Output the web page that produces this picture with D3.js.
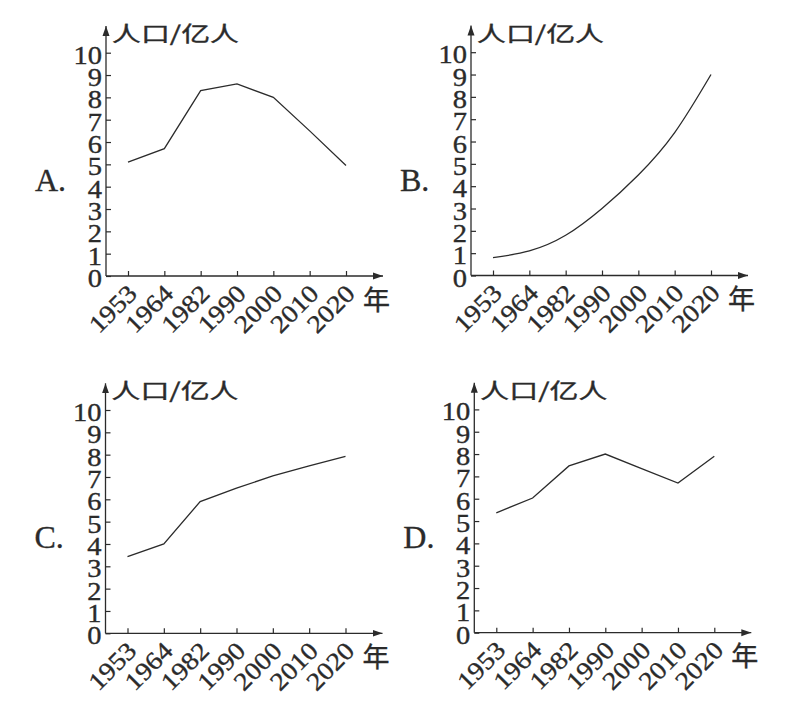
<!DOCTYPE html>
<html>
<head>
<meta charset="utf-8">
<script src="https://cdn.jsdelivr.net/npm/d3@7"></script>
<style>
  body { margin: 0; background: #fff; }
  svg { display: block; }
</style>
</head>
<body>
<div id="chart"></div>
<script>
// dane
const years = ['1953', '1964', '1982', '1990', '2000', '2010', '2020'];
const yTicks = [0, 1, 2, 3, 4, 5, 6, 7, 8, 9, 10];
const panelLabels = ['A.', 'B.', 'C.', 'D.'];
const popA = [5.1, 5.7, 8.3, 8.6, 8.0, 6.5, 4.95];
const popB = [0.8, 1.1, 1.8, 3.0, 4.5, 6.4, 9.0];
const popC = [3.43, 4.0, 5.9, 6.5, 7.05, 7.5, 7.92];
const popD = [5.37, 6.03, 7.47, 8.0, 7.35, 6.7, 7.9];
const yTitle = '人口/亿人';
const xTitle = '年';

const WIDTH = 790;
const HEIGHT = 710;
const INK = '#2b2b2b';
const SERIF = '"Liberation Serif", "DejaVu Serif", serif';
const CJK = '"Noto Sans CJK SC", "Noto Sans", sans-serif';

// położenie początku układu każdego wykresu
const ORIGINS = [
  { x: 106, y: 276 },
  { x: 471, y: 275.5 },
  { x: 105.5, y: 633.3 },
  { x: 474.3, y: 632.7 },
];
const panels = [
  { label: panelLabels[0], values: popA, curve: d3.curveLinear },
  { label: panelLabels[1], values: popB, curve: d3.curveNatural },
  { label: panelLabels[2], values: popC, curve: d3.curveLinear },
  { label: panelLabels[3], values: popD, curve: d3.curveLinear },
];

const svg = d3
  .select('#chart')
  .append('svg')
  .attr('width', WIDTH)
  .attr('height', HEIGHT)
  .style('background', 'white');

svg
  .append('defs')
  .append('marker')
  .attr('id', 'arrow')
  .attr('viewBox', '0 0 10 10')
  .attr('refX', 10)
  .attr('refY', 5)
  .attr('markerWidth', 10)
  .attr('markerHeight', 10)
  .attr('markerUnits', 'userSpaceOnUse')
  .attr('orient', 'auto')
  .append('path')
  .attr('d', 'M0,1.5 L10,5 L0,8.5 Z')
  .attr('fill', INK);

// pogrubienie cyfr jak w skanie
function inkText(sel, family, size) {
  sel
    .attr('font-family', family)
    .attr('font-size', size)
    .attr('fill', INK)
    .attr('stroke', INK)
    .attr('stroke-width', 0.35);
}

// skan jest lekko rozciągnięty w poziomie
function stretch(sel, k) {
  sel.each(function () {
    const w = this.getComputedTextLength();
    d3.select(this)
      .attr('textLength', w * k)
      .attr('lengthAdjust', 'spacingAndGlyphs');
  });
}

panels.forEach((p, i) => {
  const o = ORIGINS[i];
  const g = svg.append('g');

  const x = d3.scalePoint().domain(years).range([o.x + 22, o.x + 240]);
  const y = d3.scaleLinear().domain([0, 10]).range([o.y, o.y - 223.3]);

  // oś X
  const xAxis = g
    .append('g')
    .attr('transform', `translate(0, ${o.y})`)
    .call(d3.axisBottom(x).tickSizeInner(-5).tickSizeOuter(0));
  xAxis.select('.domain').remove();
  xAxis.selectAll('line').attr('stroke', INK).attr('stroke-width', 1.2);
  xAxis
    .selectAll('text')
    .attr('y', 0)
    .attr('dy', 0)
    .attr('text-anchor', 'end')
    .attr('transform', 'translate(10, 19) rotate(-45)')
    .call(inkText, SERIF, 25)
    .call(stretch, 1.12);

  // oś Y
  const yAxis = g
    .append('g')
    .attr('transform', `translate(${o.x}, 0)`)
    .call(
      d3.axisLeft(y).tickValues(yTicks).tickSizeInner(-5).tickSizeOuter(0).tickPadding(4)
    );
  yAxis.select('.domain').remove();
  yAxis.selectAll('line').attr('stroke', INK).attr('stroke-width', 1.2);
  yAxis
    .selectAll('text')
    .attr('dy', '0.42em')
    .call(inkText, SERIF, 25)
    .call(stretch, 1.14);

  // linie osi ze strzałkami
  g.append('line')
    .attr('x1', o.x)
    .attr('y1', o.y)
    .attr('x2', o.x + 277)
    .attr('y2', o.y)
    .attr('stroke', INK)
    .attr('stroke-width', 1.3)
    .attr('marker-end', 'url(#arrow)');
  g.append('line')
    .attr('x1', o.x)
    .attr('y1', o.y)
    .attr('x2', o.x)
    .attr('y2', o.y - 250)
    .attr('stroke', INK)
    .attr('stroke-width', 1.3)
    .attr('marker-end', 'url(#arrow)');

  // podpisy osi
  g.append('text')
    .attr('x', o.x + 6)
    .attr('y', o.y - 235)
    .attr('textLength', 127)
    .attr('lengthAdjust', 'spacingAndGlyphs')
    .text(yTitle)
    .call(inkText, CJK, 21);
  g.append('text')
    .attr('x', o.x + 257)
    .attr('y', o.y + 22)
    .attr('dominant-baseline', 'central')
    .text(xTitle)
    .call(inkText, CJK, 27);

  // litera wykresu
  g.append('text')
    .attr('x', o.x - 71)
    .attr('y', o.y - 85)
    .text(p.label)
    .call(inkText, SERIF, 32);

  // linia danych
  const line = d3
    .line()
    .x((d, j) => x(years[j]))
    .y((d) => y(d))
    .curve(p.curve);
  g.append('path')
    .datum(p.values)
    .attr('d', line)
    .attr('fill', 'none')
    .attr('stroke', INK)
    .attr('stroke-width', 1.3);
});
</script>
</body>
</html>
